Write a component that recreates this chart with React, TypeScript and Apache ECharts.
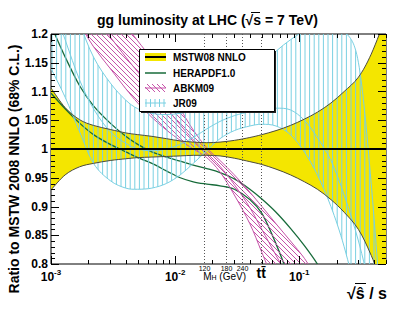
import React, { useEffect, useRef } from "react";
import * as echarts from "echarts";

const FONT = '"Liberation Sans", Arial, Helvetica, sans-serif';

// sqrt(shat/s) sample points
const xValues = [0.001, 0.0013, 0.0017, 0.0022, 0.003, 0.004, 0.005, 0.0065, 0.0085, 0.011, 0.014, 0.018, 0.023, 0.03, 0.04, 0.05, 0.065, 0.085, 0.11, 0.14, 0.18, 0.23, 0.3, 0.38, 0.5];

const mstwUpper = [1.106, 1.072, 1.051, 1.041, 1.034, 1.028, 1.025, 1.022, 1.018, 1.014, 1.012, 1.011, 1.012, 1.015, 1.02, 1.025, 1.032, 1.041, 1.052, 1.064, 1.08, 1.1, 1.125, 1.165, 1.23];
const mstwLower = [0.929, 0.955, 0.969, 0.975, 0.98, 0.983, 0.985, 0.986, 0.987, 0.988, 0.989, 0.989, 0.988, 0.984, 0.978, 0.973, 0.965, 0.955, 0.943, 0.93, 0.912, 0.89, 0.86, 0.815, 0.75];
const mstwCentral = [1, 1, 1, 1, 1, 1, 1, 1, 1, 1, 1, 1, 1, 1, 1, 1, 1, 1, 1, 1, 1, 1, 1, 1, 1];

const heraUpper = [1.215, 1.16, 1.11, 1.075, 1.045, 1.022, 1.008, 0.995, 0.986, 0.979, 0.972, 0.966, 0.959, 0.948, 0.93, 0.913, 0.89, 0.862, 0.832, 0.8, 0.76, 0.71, 0.65, 0.6, 0.55];
const heraLower = [1.097, 1.07, 1.045, 1.025, 1.008, 0.995, 0.985, 0.975, 0.962, 0.95, 0.943, 0.939, 0.936, 0.93, 0.912, 0.888, 0.835, 0.77, 0.7, 0.63, 0.56, 0.5, 0.45, 0.4, 0.35];

const abkmUpper = [1.42, 1.37, 1.33, 1.29, 1.25, 1.215, 1.188, 1.155, 1.11, 1.07, 1.033, 1.002, 0.98, 0.955, 0.925, 0.9, 0.87, 0.84, 0.81, 0.775, 0.74, 0.7, 0.66, 0.62, 0.58];
const abkmLower = [1.33, 1.28, 1.22, 1.178, 1.14, 1.105, 1.08, 1.055, 1.033, 1.015, 1.0, 0.985, 0.96, 0.92, 0.87, 0.82, 0.76, 0.7, 0.64, 0.58, 0.52, 0.46, 0.4, 0.35, 0.3];
const abkmCentral = [1.375, 1.325, 1.275, 1.234, 1.195, 1.16, 1.134, 1.105, 1.072, 1.042, 1.016, 0.993, 0.97, 0.938, 0.898, 0.86, 0.815, 0.77, 0.725, 0.678, 0.63, 0.58, 0.53, 0.485, 0.44];

const jrUpper = [1.4, 1.3, 1.22, 1.16, 1.115, 1.085, 1.07, 1.062, 1.06, 1.062, 1.067, 1.075, 1.085, 1.1, 1.125, 1.145, 1.17, 1.19, 1.205, 1.212, 1.212, 1.205, 1.15, 0.94, 0.6];
const jrLower = [1.14, 1.09, 1.03, 0.975, 0.945, 0.932, 0.93, 0.932, 0.94, 0.955, 0.975, 0.997, 1.018, 1.032, 1.04, 1.043, 1.04, 1.025, 0.995, 0.955, 0.9, 0.83, 0.73, 0.62, 0.5];
const jrCentral = [1.26, 1.19, 1.12, 1.07, 1.03, 1.01, 1.0, 0.997, 1.0, 1.008, 1.02, 1.035, 1.048, 1.058, 1.065, 1.069, 1.071, 1.068, 1.05, 1.02, 0.98, 0.92, 0.84, 0.75, 0.65];

const higgsMasses = [120, 180, 240];
const topPairThreshold = 346;
const sqrtS = 7000;

const xMin = 0.001;
const xMax = 0.5;
const yMin = 0.8;
const yMax = 1.2;
const yInterval = 0.05;

const C_YELLOW = "#f4e600";
const C_MSTW_EDGE = "#4b4b3c";
const C_GREEN = "#176b3a";
const C_MAGENTA = "#c653a9";
const C_CYAN = "#7ad0e2";

type Pt = number[];

function smoothTo(ctx: any, pts: Pt[], move: boolean) {
  const n = pts.length;
  if (move) ctx.moveTo(pts[0][0], pts[0][1]);
  else ctx.lineTo(pts[0][0], pts[0][1]);
  for (let i = 0; i < n - 1; i++) {
    const p0 = pts[i - 1] || pts[i];
    const p1 = pts[i];
    const p2 = pts[i + 1];
    const p3 = pts[i + 2] || pts[i + 1];
    ctx.bezierCurveTo(
      p1[0] + (p2[0] - p0[0]) / 6,
      p1[1] + (p2[1] - p0[1]) / 6,
      p2[0] - (p3[0] - p1[0]) / 6,
      p2[1] - (p3[1] - p1[1]) / 6,
      p2[0],
      p2[1]
    );
  }
}

const SmoothPath = (echarts as any).graphic.extendShape({
  type: "smoothPath",
  shape: { upper: [], lower: [] },
  buildPath(ctx: any, shape: any) {
    const up: Pt[] = shape.upper;
    const lo: Pt[] = shape.lower;
    if (!up || !up.length) return;
    smoothTo(ctx, up, true);
    if (lo && lo.length) {
      smoothTo(ctx, lo.slice().reverse(), false);
      ctx.closePath();
    }
  },
});
(echarts as any).graphic.registerShape("smoothPath", SmoothPath);

const Hatch = (echarts as any).graphic.extendShape({
  type: "hatchLines",
  shape: { x: 0, y: 0, width: 0, height: 0, step: 5, mode: "v" },
  buildPath(ctx: any, s: any) {
    if (s.mode === "v") {
      for (let x = s.x + 1; x <= s.x + s.width; x += s.step) {
        ctx.moveTo(x, s.y);
        ctx.lineTo(x, s.y + s.height);
      }
    } else {
      for (let k = -s.height; k <= s.width; k += s.step) {
        ctx.moveTo(s.x + k, s.y);
        ctx.lineTo(s.x + k + s.height, s.y + s.height);
      }
    }
  },
});
(echarts as any).graphic.registerShape("hatchLines", Hatch);

type Band = {
  upper?: number[];
  lower?: number[];
  lines: { v: number[]; color: string; width: number }[];
  fill?: string;
  hatch?: "v" | "d";
  hatchColor?: string;
  hatchStep?: number;
};

function bandSeries(name: string, b: Band, z: number) {
  return {
    type: "custom",
    name,
    clip: true,
    z,
    silent: true,
    data: [[xValues[0], 1]],
    encode: { x: 0, y: 1 },
    renderItem: (params: any, api: any) => {
      const cs = params.coordSys;
      const toPts = (arr: number[]) => xValues.map((x, i) => api.coord([x, arr[i]]));
      const children: any[] = [];
      if (b.upper && b.lower) {
        const up = toPts(b.upper);
        const lo = toPts(b.lower);
        if (b.fill) {
          children.push({ type: "smoothPath", shape: { upper: up, lower: lo }, style: { fill: b.fill, stroke: null } });
        }
        if (b.hatch) {
          children.push({
            type: "group",
            clipPath: { type: "smoothPath", shape: { upper: up, lower: lo } },
            children: [
              {
                type: "hatchLines",
                shape: { x: cs.x, y: cs.y, width: cs.width, height: cs.height, step: b.hatchStep || 5, mode: b.hatch },
                style: { fill: null, stroke: b.hatchColor, lineWidth: 1 },
              },
            ],
          });
        }
      }
      b.lines.forEach((l) => {
        children.push({ type: "smoothPath", shape: { upper: toPts(l.v), lower: [] }, style: { fill: null, stroke: l.color, lineWidth: l.width } });
      });
      return { type: "group", children };
    },
  };
}

function ticksSeries() {
  return {
    type: "custom",
    name: "ticks",
    clip: false,
    z: 20,
    silent: true,
    data: [[xMin, yMin]],
    encode: { x: 0, y: 1 },
    renderItem: (params: any, api: any) => {
      const cs = params.coordSys;
      const left = cs.x;
      const right = cs.x + cs.width;
      const top = cs.y;
      const bottom = cs.y + cs.height;
      const segs: number[][] = [];
      for (let d = xMin; d < xMax; d *= 10) {
        for (let k = 1; k <= 9; k++) {
          const v = k * d;
          if (v > xMax * 1.0001) break;
          const len = k === 1 ? 8 : 4;
          const px = Math.round(api.coord([v, yMin])[0]) + 0.5;
          segs.push([px, bottom, px, bottom - len]);
          segs.push([px, top, px, top + len]);
        }
      }
      const nMinor = Math.round((yMax - yMin) / 0.01);
      for (let i = 0; i <= nMinor; i++) {
        const v = yMin + i * 0.01;
        const len = i % 5 === 0 ? 8 : 4;
        const py = Math.round(api.coord([xMin, v])[1]) + 0.5;
        segs.push([left, py, left + len, py]);
        segs.push([right, py, right - len, py]);
      }
      return {
        type: "group",
        children: segs.map((s) => ({
          type: "line",
          shape: { x1: s[0], y1: s[1], x2: s[2], y2: s[3] },
          style: { stroke: "#000", lineWidth: 1 },
        })),
      };
    },
  };
}

function markerSeries() {
  const lines = higgsMasses.map((m) => ({ x: m / sqrtS, label: String(m) })).concat([{ x: topPairThreshold / sqrtS, label: "" }]);
  return {
    type: "custom",
    name: "markers",
    clip: false,
    z: 15,
    silent: true,
    data: [[xMin, yMin]],
    encode: { x: 0, y: 1 },
    renderItem: (params: any, api: any) => {
      const cs = params.coordSys;
      const top = cs.y;
      const bottom = cs.y + cs.height;
      const children: any[] = [];
      lines.forEach((l) => {
        const px = Math.round(api.coord([l.x, yMin])[0]) + 0.5;
        children.push({
          type: "line",
          shape: { x1: px, y1: top, x2: px, y2: bottom },
          style: { stroke: "#555", lineWidth: 1, lineDash: [1, 2] },
        });
        if (l.label) {
          children.push({
            type: "text",
            style: { text: l.label, x: px, y: bottom + 4, fill: "#000", fontSize: 7, fontFamily: FONT, align: "center", verticalAlign: "middle" },
          });
        }
      });
      const pHiggs = api.coord([higgsMasses[0] / sqrtS, yMin])[0];
      children.push({
        type: "text",
        style: {
          text: "{m|M}{h|H}{m| (GeV)}",
          x: pHiggs - 1,
          y: bottom + 12,
          align: "left",
          verticalAlign: "middle",
          rich: {
            m: { fontSize: 10, fontFamily: FONT, fill: "#000", verticalAlign: "middle" },
            h: { fontSize: 7, fontFamily: FONT, fill: "#000", verticalAlign: "bottom" },
          },
        },
      });
      const pTop = api.coord([topPairThreshold / sqrtS, yMin])[0];
      children.push({
        type: "text",
        style: { text: "tt\u0304", x: pTop, y: bottom + 9, fill: "#000", fontSize: 14, fontWeight: "bold", fontFamily: FONT, align: "center", verticalAlign: "middle" },
      });
      return { type: "group", children };
    },
  };
}

function legendGraphics() {
  const bx = 139, by = 49, bw = 135, bh = 62;
  const sx0 = 145, sx1 = 166, tx = 173;
  const rows = [57, 73, 88, 103];
  const els: any[] = [];
  els.push({ type: "rect", z: 100, shape: { x: bx + 2, y: by + 2, width: bw, height: bh }, style: { fill: "#222" } });
  els.push({ type: "rect", z: 101, shape: { x: bx + 0.5, y: by + 0.5, width: bw, height: bh }, style: { fill: "#fff", stroke: "#000", lineWidth: 1 } });
  // MSTW
  els.push({ type: "rect", z: 102, shape: { x: sx0, y: rows[0] - 4, width: sx1 - sx0, height: 8 }, style: { fill: C_YELLOW } });
  els.push({ type: "line", z: 103, shape: { x1: sx0, y1: rows[0], x2: sx1, y2: rows[0] }, style: { stroke: "#000", lineWidth: 2 } });
  // HERAPDF
  els.push({ type: "line", z: 102, shape: { x1: sx0, y1: rows[1], x2: sx1, y2: rows[1] }, style: { stroke: C_GREEN, lineWidth: 1.5 } });
  // ABKM hatched
  for (let k = -8; k <= sx1 - sx0; k += 5) {
    const x1 = sx0 + k, y1 = rows[2] - 4, x2 = sx0 + k + 8, y2 = rows[2] + 4;
    let ax = x1, ay = y1, cx = x2, cy = y2;
    if (ax < sx0) { ay += sx0 - ax; ax = sx0; }
    if (cx > sx1) { cy -= cx - sx1; cx = sx1; }
    if (cx > ax) els.push({ type: "line", z: 102, shape: { x1: ax, y1: ay, x2: cx, y2: cy }, style: { stroke: C_MAGENTA, lineWidth: 1 } });
  }
  els.push({ type: "line", z: 103, shape: { x1: sx0, y1: rows[2], x2: sx1, y2: rows[2] }, style: { stroke: C_MAGENTA, lineWidth: 1 } });
  // JR09 vertical hatch
  for (let x = sx0 + 1; x <= sx1; x += 4.5) {
    els.push({ type: "line", z: 102, shape: { x1: x, y1: rows[3] - 4, x2: x, y2: rows[3] + 4 }, style: { stroke: C_CYAN, lineWidth: 1 } });
  }
  els.push({ type: "line", z: 103, shape: { x1: sx0, y1: rows[3], x2: sx1, y2: rows[3] }, style: { stroke: C_CYAN, lineWidth: 1 } });
  const names = ["MSTW08 NNLO", "HERAPDF1.0", "ABKM09", "JR09"];
  names.forEach((n, i) => {
    els.push({
      type: "text",
      z: 104,
      style: { text: n, x: tx, y: rows[i] + 0.5, fill: "#000", fontSize: 10, fontWeight: "bold", fontFamily: FONT, align: "left", verticalAlign: "middle" },
    });
  });
  return els;
}

function otherGraphics() {
  return [
    {
      type: "text",
      z: 110,
      style: { text: "gg luminosity at LHC (\u221As = 7 TeV)", x: 207.5, y: 20, fill: "#000", fontSize: 14, fontWeight: "bold", fontFamily: FONT, align: "center", verticalAlign: "middle" },
    },
    { type: "line", z: 110, shape: { x1: 251, y1: 12.5, x2: 260, y2: 12.5 }, style: { stroke: "#000", lineWidth: 1 } },
    {
      type: "text",
      z: 110,
      rotation: Math.PI / 2,
      x: 14,
      y: 169,
      style: { text: "Ratio to MSTW 2008 NNLO (68% C.L.)", x: 0, y: 0, fill: "#000", fontSize: 14, fontWeight: "bold", fontFamily: FONT, align: "center", verticalAlign: "middle" },
    },
    {
      type: "text",
      z: 110,
      style: { text: "\u221A\u015D / s", x: 387, y: 293, fill: "#000", fontSize: 16, fontWeight: "bold", fontFamily: FONT, align: "right", verticalAlign: "middle" },
    },
    { type: "line", z: 110, shape: { x1: 355, y1: 283.5, x2: 366, y2: 283.5 }, style: { stroke: "#000", lineWidth: 1 } },
  ];
}

function buildOption(): any {
  return {
    animation: false,
    backgroundColor: "#fff",
    grid: { left: 51, right: 13, top: 34, bottom: 49, show: true, borderColor: "#000", borderWidth: 1, backgroundColor: "transparent" },
    xAxis: {
      type: "log",
      logBase: 10,
      min: xMin,
      max: xMax,
      axisLine: { show: false },
      axisTick: { show: false },
      splitLine: { show: false },
      axisLabel: {
        margin: 4,
        showMinLabel: true,
        showMaxLabel: false,
        formatter: (v: number) => {
          const lg = Math.log10(v);
          const e = Math.round(lg);
          if (Math.abs(lg - e) > 1e-6) return "";
          return "{b|10}{s|" + e + "}";
        },
        rich: {
          b: { fontSize: 12, fontWeight: "bold", fontFamily: FONT, color: "#000", verticalAlign: "bottom", lineHeight: 15 },
          s: { fontSize: 8, fontWeight: "bold", fontFamily: FONT, color: "#000", verticalAlign: "top", lineHeight: 15 },
        },
      },
    },
    yAxis: {
      type: "value",
      min: yMin,
      max: yMax,
      interval: yInterval,
      axisLine: { show: false },
      axisTick: { show: false },
      splitLine: { show: false },
      axisLabel: { margin: 3, fontSize: 12, fontWeight: "bold", fontFamily: FONT, color: "#000" },
    },
    graphic: { elements: [...legendGraphics(), ...otherGraphics()] },
    series: [
      bandSeries("MSTW08 NNLO fill", { upper: mstwUpper, lower: mstwLower, fill: C_YELLOW, lines: [] }, 2),
      bandSeries("HERAPDF1.0", { lines: [{ v: heraUpper, color: C_GREEN, width: 1.3 }, { v: heraLower, color: C_GREEN, width: 1.3 }] }, 3),
      bandSeries("ABKM09", {
        upper: abkmUpper, lower: abkmLower, hatch: "d", hatchColor: C_MAGENTA, hatchStep: 5,
        lines: [{ v: abkmUpper, color: C_MAGENTA, width: 1 }, { v: abkmLower, color: C_MAGENTA, width: 1 }, { v: abkmCentral, color: C_MAGENTA, width: 1 }],
      }, 4),
      bandSeries("JR09", {
        upper: jrUpper, lower: jrLower, hatch: "v", hatchColor: C_CYAN, hatchStep: 4.6,
        lines: [{ v: jrUpper, color: C_CYAN, width: 1 }, { v: jrLower, color: C_CYAN, width: 1 }, { v: jrCentral, color: C_CYAN, width: 1 }],
      }, 5),
      bandSeries("MSTW08 NNLO", {
        lines: [{ v: mstwUpper, color: C_MSTW_EDGE, width: 1 }, { v: mstwLower, color: C_MSTW_EDGE, width: 1 }, { v: mstwCentral, color: "#000", width: 2 }],
      }, 6),
      markerSeries(),
      ticksSeries(),
    ],
  };
}

export default function App() {
  const ref = useRef<HTMLDivElement>(null);
  useEffect(() => {
    if (!ref.current) return;
    const chart = echarts.init(ref.current, null, { renderer: "svg" });
    chart.setOption(buildOption());
    return () => chart.dispose();
  }, []);
  return <div ref={ref} style={{ position: "fixed", left: 0, top: 0, width: 399, height: 313, background: "#fff" }} />;
}
